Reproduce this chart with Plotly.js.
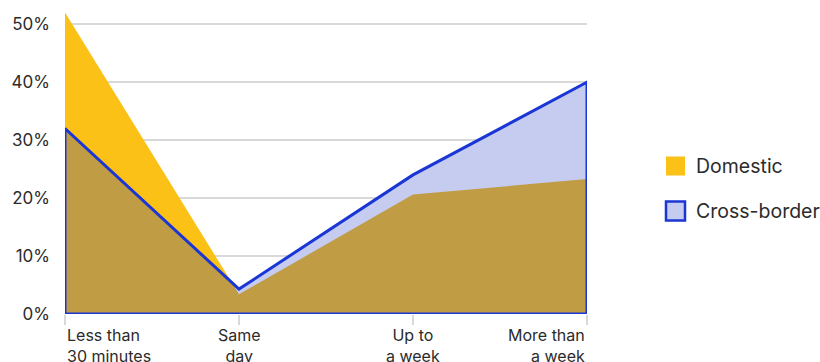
<!DOCTYPE html>
<html>
<head>
<meta charset="utf-8">
<script src="https://cdn.plot.ly/plotly-3.0.1.min.js"></script>
<style>
  html, body { margin: 0; padding: 0; background: #fff; }
  #chart { width: 820px; height: 362px; }
</style>
</head>
<body>
<div id="chart"></div>
<script>
// Delivery time categories and share of payments (%)
const categories = ["Less than<br>30 minutes", "Same<br>day", "Up to<br>a week", "More than<br>a week"];
const domestic = [52, 3.4, 20.6, 23.3];
const crossBorder = [32, 4.3, 24.0, 40];
const seriesNames = ["Domestic", "Cross-border"];
const yTicks = [0, 10, 20, 30, 40, 50];

const YELLOW = "#FBC117";
const LIGHT_BLUE = "#C5CCF0";
const BROWN = "#C09C44";
const BLUE = "#1A36D4";
const TEXT = "#2b2b2b";
const FONT = "Inter, 'Open Sans', sans-serif";

const idx = categories.map((_, i) => i);

// Lower envelope of the two series (where the areas overlap),
// including the points where the two lines cross.
const ovX = [], ovY = [];
for (let i = 0; i < idx.length; i++) {
  ovX.push(i); ovY.push(Math.min(domestic[i], crossBorder[i]));
  if (i < idx.length - 1) {
    const d0 = domestic[i] - crossBorder[i];
    const d1 = domestic[i + 1] - crossBorder[i + 1];
    if (d0 * d1 < 0) {
      const t = d0 / (d0 - d1);
      ovX.push(i + t);
      ovY.push(domestic[i] + t * (domestic[i + 1] - domestic[i]));
    }
  }
}

const last = idx.length - 1;
const traces = [
  { x: idx, y: domestic, type: "scatter", mode: "lines", fill: "tozeroy",
    fillcolor: YELLOW, line: { width: 0 }, hoverinfo: "skip", cliponaxis: false },
  { x: idx, y: crossBorder, type: "scatter", mode: "lines", fill: "tozeroy",
    fillcolor: LIGHT_BLUE, line: { width: 0 }, hoverinfo: "skip", cliponaxis: false },
  { x: ovX, y: ovY, type: "scatter", mode: "lines", fill: "tozeroy",
    fillcolor: BROWN, line: { width: 0 }, hoverinfo: "skip", cliponaxis: false },
  // closed outline of the cross-border area
  { x: [0].concat(idx, [last, 0]), y: [0].concat(crossBorder, [0, 0]),
    type: "scatter", mode: "lines", line: { color: BLUE, width: 3, shape: "linear" },
    hoverinfo: "skip", cliponaxis: false }
];

// plot-area geometry (pixels)
const ML = 65, MR = 233, MT = 1, MB = 48;
const PW = 820 - ML - MR, PH = 362 - MT - MB;
const px = x => (x - ML) / PW;
const py = y => (362 - MB - y) / PH;

const annotations = categories.map((c, i) => ({
  x: i, xref: "x", y: 0, yref: "paper", yshift: -9,
  xanchor: i === 0 ? "left" : (i === last ? "right" : "center"),
  align: i === 0 ? "left" : (i === last ? "right" : "center"),
  yanchor: "top", text: c, showarrow: false,
  font: { family: FONT, size: 16, color: TEXT }
}));

// legend entries
const legendY = [166, 211];
const shapes = [];
seriesNames.forEach((name, k) => {
  const cy = legendY[k];
  shapes.push({
    type: "rect", xref: "paper", yref: "paper",
    x0: px(666), x1: px(685), y0: py(cy + 9.5), y1: py(cy - 9.5),
    fillcolor: k === 0 ? YELLOW : LIGHT_BLUE,
    line: { color: k === 0 ? YELLOW : BLUE, width: k === 0 ? 0 : 2.5 }
  });
  annotations.push({
    x: px(694), xref: "paper", y: py(cy), yref: "paper",
    xanchor: "left", yanchor: "middle", text: name, showarrow: false,
    font: { family: FONT, size: 19.5, color: TEXT }
  });
});

const layout = {
  width: 820, height: 362,
  margin: { l: ML, r: MR, t: MT, b: MB, pad: 0 },
  paper_bgcolor: "#fff", plot_bgcolor: "#fff",
  showlegend: false,
  font: { family: FONT, color: TEXT },
  xaxis: {
    range: [0, last], showgrid: false, zeroline: false, showline: false,
    tickmode: "array", tickvals: idx, showticklabels: false,
    ticks: "outside", ticklen: 10, tickwidth: 2, tickcolor: "#d9d9d9",
    fixedrange: true
  },
  yaxis: {
    range: [0, 54], tickmode: "array", tickvals: yTicks,
    ticktext: yTicks.map(v => v + "%"),
    showgrid: true, gridcolor: "#d9d9d9", gridwidth: 1.5,
    zeroline: false, showline: false, ticks: "",
    ticklabelstandoff: 14,
    tickfont: { family: FONT, size: 17, color: TEXT },
    fixedrange: true
  },
  shapes: shapes,
  annotations: annotations
};

Plotly.newPlot("chart", traces, layout, { staticPlot: true, displayModeBar: false });
</script>
</body>
</html>
